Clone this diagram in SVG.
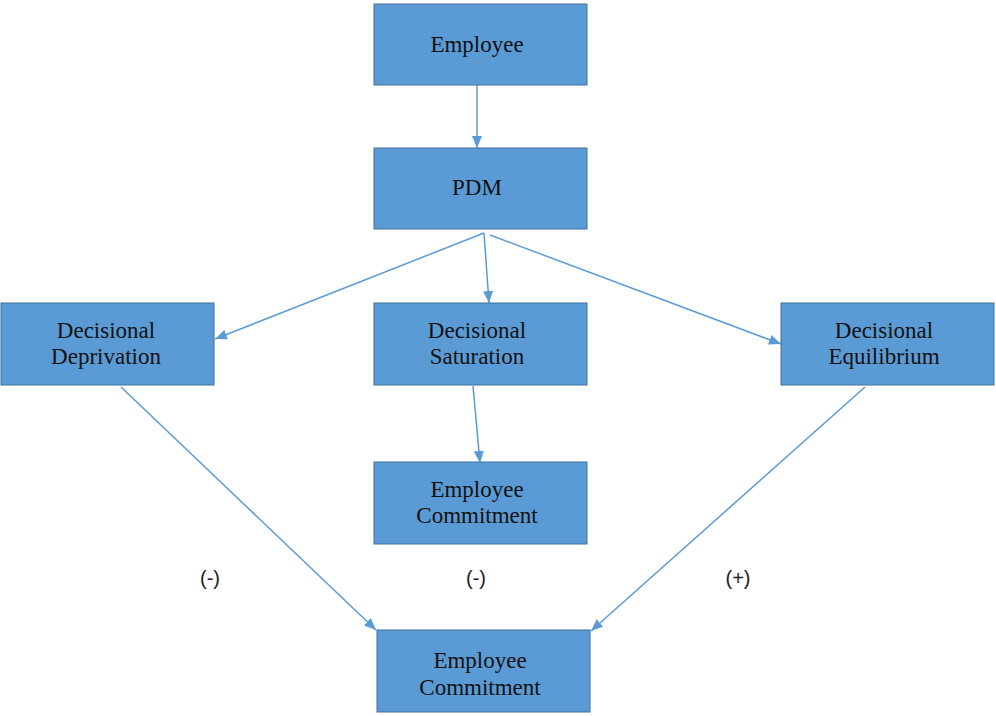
<svg xmlns="http://www.w3.org/2000/svg" width="996" height="716" viewBox="0 0 996 716">
<style>
.box{fill:#5B9BD5;stroke:#41719C;stroke-width:1}
.t{font-family:"Liberation Serif","Times New Roman",serif;font-size:23px;fill:#111;text-anchor:middle}
.lbl{font-family:"Liberation Sans",Arial,sans-serif;font-size:20px;fill:#222;text-anchor:middle}
.c{stroke:#5B9BD5;stroke-width:1.5;fill:none;marker-end:url(#ah)}
</style>
<defs>
<marker id="ah" viewBox="0 0 12 10" refX="12" refY="5" markerWidth="12" markerHeight="10" markerUnits="userSpaceOnUse" orient="auto">
<path d="M0,0 L12,5 L0,10 z" fill="#5B9BD5"/>
</marker>
</defs>
<rect width="996" height="716" fill="#fff"/>
<g id="connectors">
<line class="c" x1="477" y1="85" x2="477" y2="148"/>
<line class="c" x1="484" y1="233" x2="215" y2="339"/>
<line class="c" x1="484" y1="233" x2="489" y2="303"/>
<line class="c" x1="490" y1="235" x2="781" y2="344"/>
<line class="c" x1="473" y1="386" x2="480" y2="463"/>
<line class="c" x1="121" y1="387" x2="376" y2="630"/>
<line class="c" x1="865" y1="387" x2="591" y2="631"/>
</g>
<g id="employee"><rect class="box" x="374" y="4" width="213" height="81"/><text class="t" x="477" y="52">Employee</text></g>
<g id="pdm"><rect class="box" x="374" y="148" width="213" height="81"/><text class="t" x="477" y="195">PDM</text></g>
<g id="deprivation"><rect class="box" x="1" y="303" width="213" height="82"/><text class="t" x="106" y="338">Decisional</text><text class="t" x="106" y="364">Deprivation</text></g>
<g id="saturation"><rect class="box" x="374" y="303" width="213" height="82"/><text class="t" x="477" y="338">Decisional</text><text class="t" x="477" y="364">Saturation</text></g>
<g id="equilibrium"><rect class="box" x="781" y="303" width="213" height="82"/><text class="t" x="884" y="338">Decisional</text><text class="t" x="884" y="364">Equilibrium</text></g>
<g id="commitment1"><rect class="box" x="374" y="462" width="213" height="82"/><text class="t" x="477" y="497">Employee</text><text class="t" x="477" y="523">Commitment</text></g>
<g id="commitment2"><rect class="box" x="377" y="630" width="213" height="82"/><text class="t" x="480" y="668">Employee</text><text class="t" x="480" y="695">Commitment</text></g>
<g id="labels">
<text class="lbl" x="210" y="585">(-)</text>
<text class="lbl" x="476" y="585">(-)</text>
<text class="lbl" x="738" y="585">(+)</text>
</g>
</svg>
